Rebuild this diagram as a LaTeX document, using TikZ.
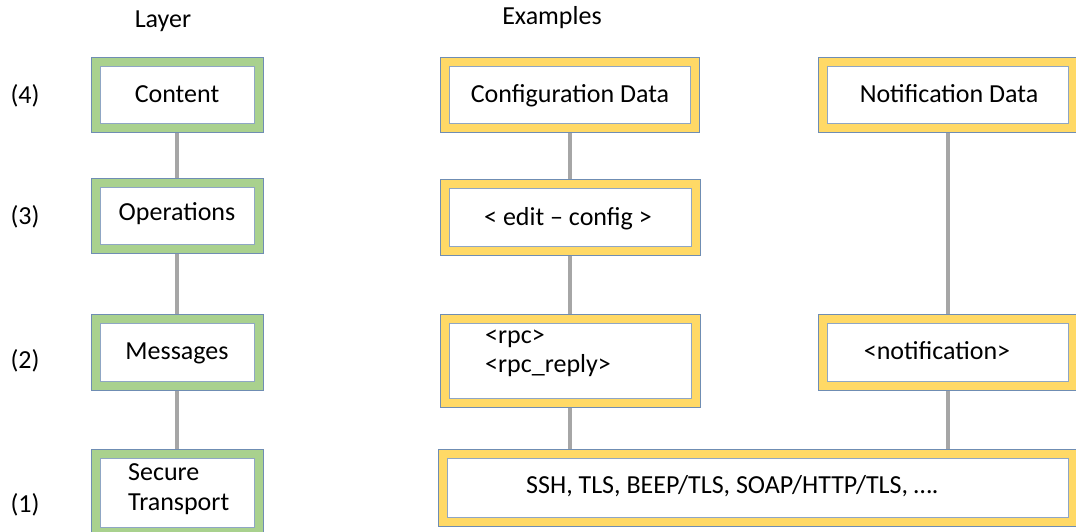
\documentclass[tikz,border=0pt]{standalone}
\usepackage{fontspec}
\setmainfont{Carlito}
\definecolor{edgeblue}{HTML}{6F8DB3}
\definecolor{inneredge}{HTML}{8FA6C4}
\definecolor{layergreen}{HTML}{A9D18E}
\definecolor{examplegold}{HTML}{FFD966}
\definecolor{linkgray}{HTML}{A6A6A6}
\tikzset{
  layerbox/.style={draw=edgeblue, line width=1pt, fill=#1, inner sep=0pt,
    path picture={\draw[draw=inneredge, line width=1pt, fill=white]
      ([shift={(9pt,-9pt)}]path picture bounding box.north west) rectangle
      ([shift={(-9pt,9pt)}]path picture bounding box.south east);}},
  greenbox/.style={layerbox=layergreen},
  goldbox/.style={layerbox=examplegold},
  link/.style={draw=linkgray, line width=4pt},
  txt/.style={font=\fontsize{26}{31}\selectfont, inner sep=0pt, anchor=base},
  lefttxt/.style={txt, anchor=base west},
}
\begin{document}
\begin{tikzpicture}[x=1pt, y=-1pt]
\useasboundingbox (0,0) rectangle (1076,532);
\clip (0,0) rectangle (1076,532);

% column headings
\node[txt] (hlayer) at (163,28) {Layer};
\node[txt] (hexamples) at (552,25) {Examples};

% layer numbers
\node[txt] (n4) at (25,104) {(4)};
\node[txt] (n3) at (25,224) {(3)};
\node[txt] (n2) at (25,368) {(2)};
\node[txt] (n1) at (25,512) {(1)};

% layer column
\node[greenbox, minimum width=172pt, minimum height=75pt] (content) at (177,95) {};
\node[greenbox, minimum width=172pt, minimum height=75pt] (ops) at (177,216) {};
\node[greenbox, minimum width=172pt, minimum height=76pt] (msg) at (177,352) {};
\node[greenbox, minimum width=172pt, minimum height=87pt] (sec) at (177,492.5) {};

% example columns
\node[goldbox, minimum width=259pt, minimum height=75pt] (conf) at (570,95) {};
\node[goldbox, minimum width=260pt, minimum height=76pt] (edit) at (570,217) {};
\node[goldbox, minimum width=260pt, minimum height=93pt] (rpc) at (570,360.5) {};
\node[goldbox, minimum width=259pt, minimum height=75pt] (ndata) at (947.5,95) {};
\node[goldbox, minimum width=259pt, minimum height=76pt] (notif) at (947.5,352) {};
\node[goldbox, minimum width=639pt, minimum height=77pt] (ssh) at (757.5,487.5) {};

% connectors
\draw[link] (content) -- (ops);
\draw[link] (ops) -- (msg);
\draw[link] (msg) -- (sec);
\draw[link] (conf) -- (edit);
\draw[link] (edit) -- (rpc);
\draw[link] (rpc.south) -- (rpc.south |- ssh.north);
\draw[link] (ndata) -- (notif);
\draw[link] (notif.south) -- (notif.south |- ssh.north);

% box texts
\node[txt] (tcontent) at (177,103) {Content};
\node[txt] (tops) at (177,220) {Operations};
\node[txt] (tmsg) at (177,359) {Messages};
\node[lefttxt] (tsec1) at (128,480) {Secure};
\node[lefttxt] (tsec2) at (128,510) {Transport};
\node[txt] (tconf) at (570,103) {Configuration Data};
\node[txt] (tedit) at (568,225) {< edit – config >};
\node[lefttxt] (trpc1) at (485,343) {<rpc>};
\node[lefttxt] (trpc2) at (485,372) {<rpc\_reply>};
\node[txt] (tndata) at (949,103) {Notification Data};
\node[txt] (tnotif) at (937,359) {<notification>};
\node[lefttxt] (tssh) at (526,493) {SSH, TLS, BEEP/TLS, SOAP/HTTP/TLS, ….};
\end{tikzpicture}
\end{document}
